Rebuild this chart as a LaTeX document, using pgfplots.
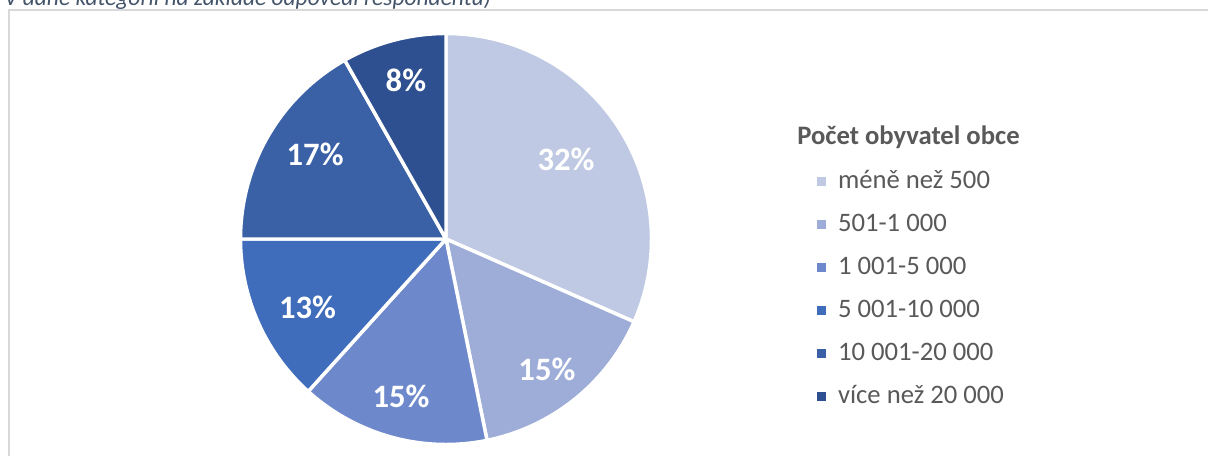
\documentclass[border=0pt]{standalone}
\usepackage{pgfplots}
\pgfplotsset{compat=1.18}
\usepackage{fontspec}
\setmainfont{Carlito}
\definecolor{c1}{HTML}{BFC9E3}
\definecolor{c2}{HTML}{9DADD8}
\definecolor{c3}{HTML}{6E89CB}
\definecolor{c4}{HTML}{3F6DBB}
\definecolor{c5}{HTML}{3A60A6}
\definecolor{c6}{HTML}{2E5090}
\definecolor{txtgray}{HTML}{595959}
\definecolor{capcol}{HTML}{44546A}
\definecolor{framecol}{HTML}{D9D9D9}
\begin{document}
\begin{tikzpicture}[x=0.75pt,y=0.75pt]
\useasboundingbox (0,0) rectangle (1208,456);
\draw[framecol, line width=1.5pt] (9,-20) -- (9,446) -- (1230,446);
\node[anchor=base west, inner sep=0pt, text=capcol, font=\fontsize{17.6}{20}\selectfont\itshape] at (4,450) {V dané kategorii na základě odpovědí respondentů)};
\node[anchor=base west, inner sep=0pt, text=txtgray, font=\fontsize{20}{24}\selectfont\bfseries] at (797,311) {Počet obyvatel obce};
\begin{axis}[at={(334.5pt,162.75pt)}, anchor=center,
  width=308.25pt, height=308.25pt, scale only axis, hide axis, clip=false,
  xmin=-1, xmax=1, ymin=-1, ymax=1, samples=90,
  /pgf/number format/assume math mode=true,
  legend cell align=left,
  legend image code/.code={\path[#1,draw=none] (0pt,-3.4pt) rectangle (6.75pt,3.4pt);},
  legend style={at={(1.4027,0.6715)}, anchor=north west, draw=none, fill=none,
    inner sep=0pt, outer sep=0pt, row sep=12.25pt, column sep=9pt,
    font=\fontsize{20}{24}\selectfont, text=txtgray,
    nodes={inner sep=0pt, text height=15pt, text depth=5pt}},
]
\addplot[fill=c1, draw=white, line width=2.6pt, line join=round, domain=0:31.6] ({sin(3.6*x)},{cos(3.6*x)}) -- (0,0) -- cycle;
\addlegendentry{méně než 500}
\addplot[fill=c2, draw=white, line width=2.6pt, line join=round, domain=31.6:46.8] ({sin(3.6*x)},{cos(3.6*x)}) -- (0,0) -- cycle;
\addlegendentry{501-1 000}
\addplot[fill=c3, draw=white, line width=2.6pt, line join=round, domain=46.8:61.7] ({sin(3.6*x)},{cos(3.6*x)}) -- (0,0) -- cycle;
\addlegendentry{1 001-5 000}
\addplot[fill=c4, draw=white, line width=2.6pt, line join=round, domain=61.7:75.0] ({sin(3.6*x)},{cos(3.6*x)}) -- (0,0) -- cycle;
\addlegendentry{5 001-10 000}
\addplot[fill=c5, draw=white, line width=2.6pt, line join=round, domain=75.0:91.8] ({sin(3.6*x)},{cos(3.6*x)}) -- (0,0) -- cycle;
\addlegendentry{10 001-20 000}
\addplot[fill=c6, draw=white, line width=2.6pt, line join=round, domain=91.8:100] ({sin(3.6*x)},{cos(3.6*x)}) -- (0,0) -- cycle;
\addlegendentry{více než 20 000}
\addplot[forget plot, only marks, mark=none, point meta=explicit,
  nodes near coords={\pgfmathprintnumber[fixed,precision=0]{\pgfplotspointmeta}\%},
  nodes near coords style={anchor=center, inner sep=0pt, text=white, font=\fontsize{24.5}{28}\selectfont\bfseries}]
  table[meta=v] {
x y v
0.584 0.389 31.6
0.491 -0.633 15.2
-0.219 -0.764 14.9
-0.674 -0.331 13.3
-0.637 0.414 16.8
-0.195 0.774 8.2
};
\end{axis}
\end{tikzpicture}
\end{document}
